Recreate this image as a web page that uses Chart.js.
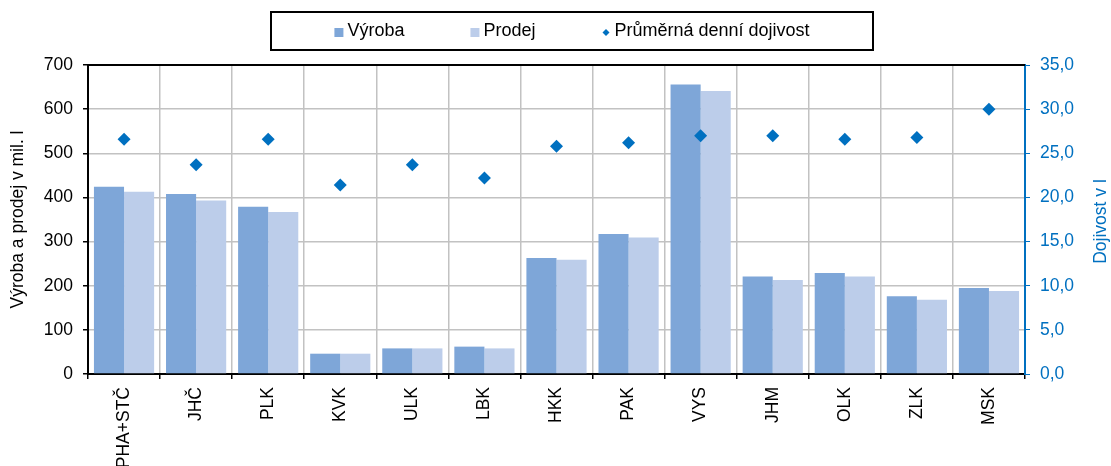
<!DOCTYPE html>
<html>
<head>
<meta charset="utf-8">
<script src="https://cdn.jsdelivr.net/npm/chart.js@4.4.1/dist/chart.umd.min.js"></script>
<style>
    html, body { margin: 0; padding: 0; background: #fff; }
    #wrap { width: 1111px; height: 466px; position: relative; }
</style>
</head>
<body>
<div id="wrap"><canvas id="milkChart"></canvas></div>
<script>
// Kraje
const regions = ['PHA+STČ', 'JHČ', 'PLK', 'KVK', 'ULK', 'LBK', 'HKK', 'PAK', 'VYS', 'JHM', 'OLK', 'ZLK', 'MSK'];
// Výroba (mil. l)
const production = [424, 408, 379, 46, 58, 62, 263, 317, 656, 221, 229, 176, 195];
// Prodej (mil. l)
const sales = [413, 393, 367, 46, 58, 58, 259, 309, 641, 213, 221, 168, 188];
// Průměrná denní dojivost (l)
const dailyYield = [26.6, 23.7, 26.6, 21.4, 23.7, 22.2, 25.8, 26.2, 27.0, 27.0, 26.6, 26.8, 30.0];

// Axis ranges
const leftAxis = { min: 0, max: 700, step: 100 };
const rightAxis = { min: 0, max: 35, step: 5 };

const FONT = '"Liberation Sans", Arial, sans-serif';
const BLUE = '#0070c0';
const colors = {
    production: '#7ea6d8',
    sales: '#bccdea',
    yield: BLUE,
    grid: '#c2c2c2'
};

/**
 * Boxed legend drawn above the plot
 */
const boxLegend = {
    id: 'boxLegend',
    afterDraw(chart) {
        const ctx = chart.ctx;
        const items = [
            { text: 'Výroba', color: colors.production, marker: 'square' },
            { text: 'Prodej', color: colors.sales, marker: 'square' },
            { text: 'Průměrná denní dojivost', color: colors.yield, marker: 'diamond' }
        ];
        const box = { left: 271, top: 12, right: 873, bottom: 50 };
        const markerW = 9, markerGap = 4, itemGap = 66;

        ctx.save();
        ctx.font = `18px ${FONT}`;
        const widths = items.map(it => markerW + markerGap + ctx.measureText(it.text).width);
        const total = widths.reduce((a, b) => a + b, 0) + itemGap * (items.length - 1);

        ctx.strokeStyle = '#000';
        ctx.lineWidth = 2;
        ctx.strokeRect(box.left, box.top, box.right - box.left, box.bottom - box.top);

        const cy = (box.top + box.bottom) / 2;
        let x = (box.left + box.right) / 2 - total / 2;
        items.forEach((it, i) => {
            ctx.fillStyle = it.color;
            if (it.marker === 'square') {
                ctx.fillRect(x, cy - 3, markerW, markerW);
            } else {
                const mx = x + markerW / 2, my = cy + 1.5, r = 3.5;
                ctx.beginPath();
                ctx.moveTo(mx - r, my);
                ctx.lineTo(mx, my - r);
                ctx.lineTo(mx + r, my);
                ctx.lineTo(mx, my + r);
                ctx.closePath();
                ctx.fill();
            }
            ctx.fillStyle = '#000';
            ctx.textBaseline = 'middle';
            ctx.textAlign = 'left';
            ctx.fillText(it.text, x + markerW + markerGap, cy);
            x += widths[i] + itemGap;
        });
        ctx.restore();
    }
};

/**
 * Top frame line and right axis title (reads bottom to top)
 */
const frameExtras = {
    id: 'frameExtras',
    afterDraw(chart) {
        const { ctx, chartArea } = chart;
        ctx.save();
        ctx.strokeStyle = '#000';
        ctx.lineWidth = 2;
        ctx.beginPath();
        ctx.moveTo(chartArea.left, chartArea.top);
        ctx.lineTo(chartArea.right, chartArea.top);
        ctx.stroke();

        ctx.translate(1101, (chartArea.top + chartArea.bottom) / 2 + 2);
        ctx.rotate(-Math.PI / 2);
        ctx.font = `17.5px ${FONT}`;
        ctx.fillStyle = BLUE;
        ctx.textAlign = 'center';
        ctx.textBaseline = 'middle';
        ctx.fillText('Dojivost v l', 0, 0);
        ctx.restore();
    }
};

function formatComma(value) {
    return value.toFixed(1).replace('.', ',');
}

const ctx = document.getElementById('milkChart').getContext('2d');

new Chart(ctx, {
    data: {
        labels: regions,
        datasets: [
            {
                type: 'line',
                label: 'Průměrná denní dojivost',
                data: dailyYield,
                yAxisID: 'y2',
                showLine: false,
                pointStyle: 'rectRot',
                pointRadius: 6.5,
                pointBackgroundColor: colors.yield,
                pointBorderColor: colors.yield,
                pointBorderWidth: 0,
                order: 0
            },
            {
                type: 'bar',
                label: 'Výroba',
                data: production,
                yAxisID: 'y',
                backgroundColor: colors.production,
                categoryPercentage: 0.835,
                barPercentage: 1,
                order: 1
            },
            {
                type: 'bar',
                label: 'Prodej',
                data: sales,
                yAxisID: 'y',
                backgroundColor: colors.sales,
                categoryPercentage: 0.835,
                barPercentage: 1,
                order: 1
            }
        ]
    },
    options: {
        responsive: true,
        maintainAspectRatio: false,
        animation: false,
        layout: {
            padding: { top: 65, left: 0, right: 0, bottom: 0 }
        },
        plugins: {
            legend: { display: false },
            tooltip: { enabled: false }
        },
        scales: {
            x: {
                offset: true,
                grid: {
                    offset: true,
                    color: colors.grid,
                    lineWidth: 1.5,
                    tickColor: '#000',
                    tickLength: 5
                },
                border: { color: '#000', width: 2 },
                ticks: {
                    color: '#000',
                    font: { family: FONT, size: 17.5 },
                    minRotation: 90,
                    maxRotation: 90,
                    padding: 8,
                    autoSkip: false
                },
                afterFit: scale => { scale.height = 92; }
            },
            y: {
                position: 'left',
                min: leftAxis.min,
                max: leftAxis.max,
                grid: {
                    color: colors.grid,
                    lineWidth: 1.5,
                    tickColor: '#000',
                    tickLength: 5
                },
                border: { color: '#000', width: 2 },
                ticks: {
                    stepSize: leftAxis.step,
                    color: '#000',
                    padding: 10,
                    font: { family: FONT, size: 17.5 }
                },
                title: {
                    display: true,
                    text: 'Výroba a prodej v mil. l',
                    color: '#000',
                    font: { family: FONT, size: 17.5 },
                    padding: { top: 8, bottom: 0 }
                },
                afterFit: scale => { scale.width = 88; }
            },
            y2: {
                position: 'right',
                min: rightAxis.min,
                max: rightAxis.max,
                grid: {
                    drawOnChartArea: false,
                    tickColor: BLUE,
                    tickLength: 5
                },
                border: { color: BLUE, width: 2 },
                ticks: {
                    stepSize: rightAxis.step,
                    color: BLUE,
                    padding: 10,
                    font: { family: FONT, size: 17.5 },
                    callback: value => formatComma(value)
                },
                afterFit: scale => { scale.width = 86; }
            }
        }
    },
    plugins: [boxLegend, frameExtras]
});
</script>
</body>
</html>
